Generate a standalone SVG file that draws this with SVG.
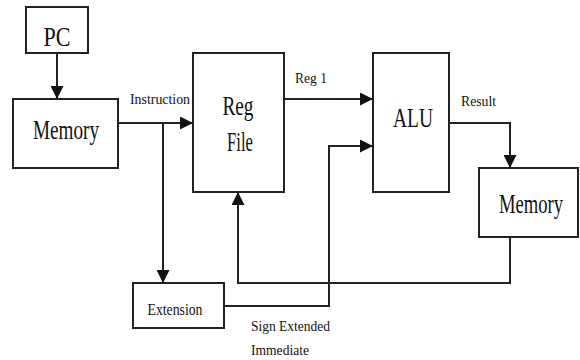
<svg xmlns="http://www.w3.org/2000/svg" width="580" height="360" viewBox="0 0 580 360">
  <style>
    .box { fill: #ffffff; stroke: #222222; stroke-width: 2; }
    .wire { fill: none; stroke: #222222; stroke-width: 2; }
    .big { font-family: "Liberation Serif", "DejaVu Serif", serif; font-size: 28px; fill: #111111; }
    .mid { font-family: "Liberation Serif", "DejaVu Serif", serif; font-size: 16px; fill: #111111; }
    .small { font-family: "Liberation Serif", "DejaVu Serif", serif; font-size: 14px; fill: #111111; }
  </style>
  <defs>
    <marker id="arrow" markerUnits="userSpaceOnUse" markerWidth="13" markerHeight="13" viewBox="0 0 13 13" refX="13" refY="6.5" orient="auto">
      <path d="M0,0 L13,6.5 L0,13 Z" fill="#111111"/>
    </marker>
  </defs>

  <g id="connectors">
    <path class="wire" d="M57,53 L57,99" marker-end="url(#arrow)"/>
    <path class="wire" d="M118,123 L193,123" marker-end="url(#arrow)"/>
    <path class="wire" d="M163,123 L163,283" marker-end="url(#arrow)"/>
    <path class="wire" d="M284,99 L373,99" marker-end="url(#arrow)"/>
    <path class="wire" d="M449,123 L510,123 L510,168" marker-end="url(#arrow)"/>
    <path class="wire" d="M510,237 L510,283 L238,283 L238,192" marker-end="url(#arrow)"/>
    <path class="wire" d="M224,306 L329,306 L329,146 L373,146" marker-end="url(#arrow)"/>
    <text class="small" x="130" y="104" textLength="60" lengthAdjust="spacingAndGlyphs">Instruction</text>
    <text class="small" x="295" y="83" textLength="32" lengthAdjust="spacingAndGlyphs">Reg 1</text>
    <text class="small" x="461" y="106" textLength="35" lengthAdjust="spacingAndGlyphs">Result</text>
    <text class="small" x="251" y="331" textLength="79" lengthAdjust="spacingAndGlyphs">Sign Extended</text>
    <text class="small" x="251" y="355" textLength="58" lengthAdjust="spacingAndGlyphs">Immediate</text>
  </g>

  <g id="pc">
    <rect class="box" x="26" y="7" width="62" height="46"/>
    <text class="big" x="57" y="46" text-anchor="middle" textLength="27" lengthAdjust="spacingAndGlyphs">PC</text>
  </g>

  <g id="memory1">
    <rect class="box" x="13" y="99" width="105" height="69"/>
    <text class="big" x="66" y="139" text-anchor="middle" textLength="66" lengthAdjust="spacingAndGlyphs">Memory</text>
  </g>

  <g id="regfile">
    <rect class="box" x="193" y="53" width="91" height="139"/>
    <text class="big" x="238" y="115" text-anchor="middle" textLength="31" lengthAdjust="spacingAndGlyphs">Reg</text>
    <text class="big" x="240" y="151" text-anchor="middle" textLength="26" lengthAdjust="spacingAndGlyphs">File</text>
  </g>

  <g id="alu">
    <rect class="box" x="373" y="53" width="76" height="139"/>
    <text class="big" x="413" y="127" text-anchor="middle" textLength="40" lengthAdjust="spacingAndGlyphs">ALU</text>
  </g>

  <g id="memory2">
    <rect class="box" x="479" y="168" width="99" height="69"/>
    <text class="big" transform="translate(531,213) scale(1,1.3)" x="0" y="0" text-anchor="middle" textLength="64" lengthAdjust="spacingAndGlyphs" style="font-size:21px">Memory</text>
  </g>

  <g id="extension">
    <rect class="box" x="133" y="283" width="91" height="45"/>
    <text class="mid" x="175" y="315" text-anchor="middle" textLength="55" lengthAdjust="spacingAndGlyphs">Extension</text>
  </g>
</svg>
